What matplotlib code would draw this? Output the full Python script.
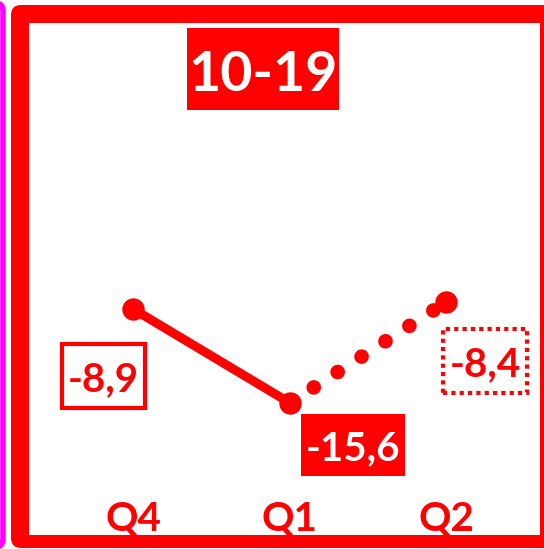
import matplotlib
matplotlib.use("Agg")
import matplotlib.pyplot as plt
from matplotlib.patches import Rectangle, FancyBboxPatch
from matplotlib.transforms import IdentityTransform

# ---- data ----
quarters = ["Q4", "Q1", "Q2"]
values = [-8.9, -15.6, -8.4]
value_labels = ["-8,9", "-15,6", "-8,4"]
panel_title = "10-19"

RED = "#FF0000"
MAGENTA = "#FF00FF"
FONT = ["Lato", "DejaVu Sans"]

W, H = 544, 549
fig = plt.figure(figsize=(W / 100, H / 100), dpi=100)
fig.patch.set_facecolor("white")

def fy(py):
    return H - py

# neighbouring panel edge (magenta) and red frame
mag = FancyBboxPatch((-40, fy(547)), 43, 544, boxstyle="round,pad=0,rounding_size=8",
                     transform=IdentityTransform(), facecolor="white", edgecolor=MAGENTA,
                     linewidth=4, zorder=-2)
fig.patches.append(mag)
frame = FancyBboxPatch((11, fy(548)), 580, 543, boxstyle="round,pad=0,rounding_size=10",
                       transform=IdentityTransform(), facecolor=RED, edgecolor="none", zorder=-1)
fig.patches.append(frame)

ax = fig.add_axes([29 / W, (H - 535) / H, 511 / W, 512 / H])
ax.set_facecolor("white")
for s in ax.spines.values():
    s.set_visible(False)
ax.set_xticks([])
ax.set_yticks([])
x = list(range(len(quarters)))
ax.set_xlim(-0.664, 2.597)
ax.set_ylim(-25.04, 11.53)

# lines
ax.plot(x[:2], values[:2], color=RED, lw=6.5, solid_capstyle="round", zorder=3)
ax.plot(x[1:], values[1:], color=RED, lw=10.5, linestyle=(0, (0.01, 1.94)),
        dash_capstyle="round", zorder=3)
ax.scatter(x, values, s=260, color=RED, zorder=4, linewidths=0)

# category labels
for xi, q in zip(x, quarters):
    ax.annotate(q, (xi, -25.04), xycoords="data", xytext=(0, 4), textcoords="offset pixels",
                ha="center", va="baseline", color=RED, fontsize=29, fontweight="bold",
                family=FONT)

# value label boxes: (dx, dy down, w, h, style)
box_specs = [(-30, 67, 87, 68, "outline"), (63, 42, 104, 62, "filled"), (39, 59, 88, 68, "dotted")]
for xi, v, lab, (dx, dy, w, h, style) in zip(x, values, value_labels, box_specs):
    px, py = ax.transData.transform((xi, v))
    cx, cy = px + dx, py - dy
    if style == "filled":
        r = Rectangle((cx - w / 2, cy - h / 2), w, h, transform=IdentityTransform(),
                      facecolor=RED, edgecolor="none", zorder=5)
        tcol = "white"
    elif style == "outline":
        r = Rectangle((cx - w / 2 + 2, cy - h / 2 + 2), w - 4, h - 4, transform=IdentityTransform(),
                      facecolor="white", edgecolor=RED, linewidth=3.0, zorder=5)
        tcol = RED
    else:
        r = Rectangle((cx - w / 2 + 2, cy - h / 2 + 2), w - 4, h - 4, transform=IdentityTransform(),
                      facecolor="white", edgecolor=RED, linewidth=3.0, linestyle=(0, (1, 1)),
                      zorder=5)
        tcol = RED
    ax.add_artist(r)
    ax.annotate(lab, (xi, v), xycoords="data", xytext=(dx, -(dy + 15)), textcoords="offset pixels",
                ha="center", va="baseline", color=tcol, fontsize=29, fontweight="bold",
                family=FONT, zorder=6)

# title box
tb = Rectangle((187, fy(110)), 152, 82, transform=IdentityTransform(), facecolor=RED,
               edgecolor="none", zorder=5)
fig.add_artist(tb)
fig.text(263 / W, (H - 91) / H, panel_title, ha="center", va="baseline", color="white",
         fontsize=40, fontweight="bold", family=FONT, zorder=6)

fig.savefig("out.png", dpi=100, facecolor="white")
